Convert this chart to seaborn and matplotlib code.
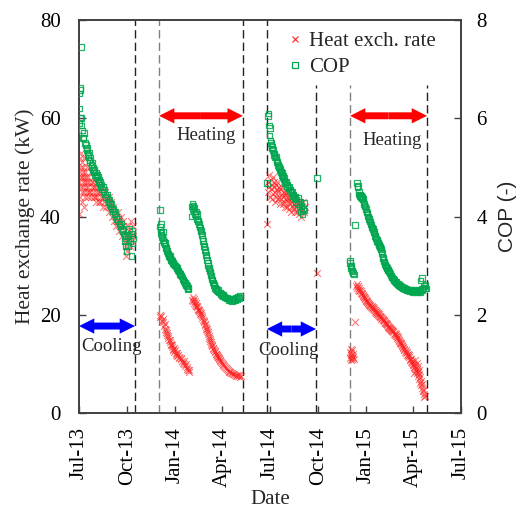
import numpy as np
import pandas as pd
import matplotlib
matplotlib.use("Agg")
import matplotlib.pyplot as plt
import matplotlib.dates as mdates
from matplotlib.patches import FancyArrowPatch
from matplotlib.lines import Line2D
import seaborn as sns

# ---------------- data (day offset from 2013-07-01, value) ----------------
START = "2013-07-01"

# Heat exchange rate (kW)
hx_p1 = [(0,40.5),(0,47),(1,52),(1,56),(2,44),(2,49),(3,50),(3,46),(4,53),(4,48),(5,45),(5,51),
         (6,48),(6,43),(7,50),(7,47),(8,46),(8,49),(9,42),(9,52),(10,48),(10,45),(11,47),(12,49),
         (12,44),(13,46),(14,48),(15,45),(15,50),(16,47),(17,44),(18,48),(18,46),(19,45),(20,47),
         (21,45),(22,49),(23,44),(24,46),(25,47),(26,47),(27,45),(28,44),(29,46),(30,44),(31,46),
         (32,45),(33,43),(34,47),(35,44),(36,45),(38,43),(39,46),(40,45),(41,43),(42,44),(44,46),
         (45,42),(46,44),(48,43),(50,45),(52,42),(54,44),(55,43),(57,41),(58,44),(60,42),(62,43),
         (63,40),(65,42),(66,39),(68,41),(70,38),(71,40),(73,39),(74,41),(76,37),(77,39),(79,38),
         (80,40),(82,36),(84,38),(85,39),(87,35),(88,37),(89,32),(90,34),(91,36),(92,33),(93,38),
         (94,35),(96,37),(97,34),(98,36),(99,39),(101,35),(103,38),(104,36)]
hx_p2a = [(154,20.0),(155,19.5),(157,19.8),(158,18.8),(160,19.2),(161,18.5),(162,17.8),(164,18.2),
          (165,17.0),(166,16.4),(167,16.8),(168,15.9),(169,16.2),(170,15.2),(171,15.6),(172,14.8),
          (173,14.4),(174,14.9),(175,14.0),(176,13.8),(177,13.4),(178,13.9),(179,13.0),(180,12.8),
          (181,13.2),(182,12.5),(184,12.8),(185,12.2),(186,11.8),(187,12.3),(188,11.6),(190,11.8),
          (191,11.2),(192,11.5),(194,10.9),(195,11.1),(197,10.6),(198,10.2),(200,10.5),(201,9.9),
          (203,9.6),(204,10.0),(206,9.3),(207,9.0),(209,8.8),(210,8.4),(211,8.7)]
hx_p2b = [(216,23.0),(217,23.6),(218,22.8),(219,23.2),(220,22.4),(221,22.8),(222,22.0),(223,22.3),
          (224,21.7),(225,21.5),(226,21.8),(227,21.2),(228,21.0),(229,20.7),(230,20.9),(231,20.5),
          (232,20.2),(233,20.4),(234,20.0),(235,19.8),(236,19.4),(237,19.0),(238,18.8),(239,18.5),
          (240,18.2),(241,18.0),(242,17.6),(243,17.2),(244,17.0),(245,16.6),(246,16.4),(247,16.0),
          (248,15.6),(249,15.3),(250,15.0),(251,14.6),(252,14.4),(253,14.0),(254,13.8),(255,13.6),
          (256,13.3),(257,13.0),(258,12.8),(259,12.6),(260,12.4),(261,12.1),(262,12.0),(263,11.8),
          (264,11.6),(265,11.5),(266,11.3),(267,11.1),(268,11.0),(269,10.8),(270,10.6),(272,10.4),
          (273,10.2),(275,10.0),(276,9.8),(278,9.6),(279,9.4),(281,9.2),(282,9.0),(284,8.8),
          (286,8.6),(287,8.4),(289,8.3),(291,8.1),(292,8.2),(294,7.9),(296,8.0),(298,7.8),
          (300,7.6),(302,7.8),(304,7.5),(306,7.7),(308,7.4),(310,7.6)]
hx_p3 = [(359,38.5),(361,47),(362,45),(363,48.5),(364,46),(365,44),(366,47.5),(367,45.5),(368,43.5),
         (369,46.5),(370,48),(371,44.5),(372,46),(373,47),(374,45),(375,43),(376,46.5),(377,44),
         (378,45.5),(379,47),(380,43.5),(381,45),(382,46),(383,44),(384,42.5),(385,45.5),(386,43.5),
         (387,44.5),(388,46),(389,42.5),(390,44),(391,45),(392,43),(393,44.5),(394,42),(395,45),
         (396,43.5),(397,44),(398,42),(399,43),(400,45),(401,41.5),(402,43.5),(403,44),(404,42.5),
         (405,43),(406,41),(407,44),(408,42),(409,43.5),(410,41.5),(411,42.5),(412,44),(413,41),
         (414,42),(415,43),(417,41),(418,42.5),(420,40.5),(421,43),(422,41.5),(424,42),(425,40),
         (427,41.5),(428,43),(430,41),(431,42),(455,28.5)]
hx_p4 = [(518,12.5),(518,11.2),(519,13.0),(519,11.8),(520,12.2),(520,10.8),(521,11.5),(521,12.8),
         (522,11.0),(523,12.0),(524,11.4),(525,10.9),(527,18.6),
         (530,25.8),(531,26.3),(532,25.5),(533,25.9),(534,25.1),(535,25.4),(536,24.8),(537,25.1),
         (538,24.5),(539,24.8),(540,24.2),(541,24.5),(542,23.9),(543,24.1),(544,23.6),(545,23.7),
         (546,23.2),(547,23.4),(548,22.9),(549,23.0),(550,22.6),(551,22.7),(552,22.3),(553,22.4),
         (554,22.0),(555,22.1),(556,21.8),(557,21.9),(558,21.5),(559,21.7),(560,21.4),(561,21.5),
         (562,21.1),(563,21.3),(564,20.9),(565,21.0),(566,20.6),(567,20.8),(568,20.4),(569,20.5),
         (570,20.2),(571,20.3),(572,19.9),(573,20.1),(574,19.7),(575,19.8),(576,19.5),(577,19.6),
         (578,19.2),(579,19.4),(580,19.0),(581,19.1),(582,18.7),(583,18.9),(584,18.4),(585,18.6),
         (586,18.2),(587,18.3),(588,17.9),(589,18.1),(590,17.6),(591,17.8),(592,17.4),(593,17.5),
         (594,17.1),(595,17.3),(596,16.9),(597,17.0),(598,16.7),(599,16.8),(600,16.4),(601,16.6),
         (602,16.1),(603,16.3),(604,15.8),(605,16.0),(606,15.6),(607,15.7),(608,15.3),(609,15.5),
         (610,15.0),(611,14.8),(612,14.6),(613,14.3),(614,14.5),(615,14.0),(616,14.2),(617,13.6),
         (618,13.9),(619,13.2),(620,13.5),(621,12.9),(622,13.1),(623,12.5),(624,12.8),(625,12.2),
         (626,12.4),(627,11.9),(628,12.1),(629,11.6),(630,11.8),(631,11.3),(632,11.0),(633,10.7),
         (634,10.9),(635,10.4),(636,10.2),(637,10.5),(638,9.8),(639,10.0),(640,9.4),(641,9.7),
         (642,9.0),(643,9.3),(644,8.6),(645,8.9),(646,8.2),(647,8.4),(648,7.6),(649,7.9),(650,7.0),
         (651,7.3),(652,6.2),(653,6.6),(654,5.6),(655,5.9),(656,5.0),(657,4.4),(658,4.7),(659,3.8),
         (660,3.2),(661,3.5),(641,8.2),(643,10.8),(645,10.2),(647,9.6),(650,8.8)]

# COP (-)
cop_p1 = [(0,5.9),(1,6.2),(1,6.5),(2,6.58),(3,6.62),(4,7.45),(2,6.0),(4,6.0),(5,5.85),(6,5.75),
          (8,5.6),(9,5.6),(10,5.7),(11,5.5),(13,5.45),(14,5.35),(15,5.4),(16,5.3),(17,5.25),
          (18,5.2),(19,5.3),(20,5.15),(21,5.1),(22,5.2),(24,5.05),(25,5.0),(26,5.1),(27,4.95),
          (28,5.0),(29,4.9),(30,4.95),(31,4.85),(32,4.9),(33,4.8),(34,4.85),(35,4.75),(36,4.8),
          (37,4.7),(38,4.75),(39,4.65),(40,4.7),(41,4.6),(43,4.65),(44,4.55),(46,4.6),(47,4.5),
          (48,4.55),(50,4.45),(52,4.4),(53,4.45),(55,4.35),(56,4.3),(58,4.35),(59,4.25),(60,4.2),
          (62,4.25),(63,4.15),(65,4.1),(66,4.15),(68,4.05),(69,4.1),(71,4.0),(72,3.95),(74,3.9),
          (75,3.95),(77,3.85),(79,3.8),(80,3.85),(82,3.75),(83,3.7),(85,3.65),(87,3.6),(88,3.5),
          (89,3.4),(90,3.55),(91,3.3),(93,3.6),(94,3.4),(96,3.75),(97,3.5),(99,3.65),(100,3.2),
          (101,3.7),(102,3.45),(104,3.55)]
cop_p2a = [(155,4.13),(155,3.8),(156,3.72),(157,3.66),(157,3.85),(158,3.62),(159,3.58),(160,3.68),
           (161,3.52),(162,3.48),(163,3.44),(164,3.46),(165,3.4),(166,3.36),(167,3.34),(168,3.3),
           (169,3.27),(170,3.25),(171,3.22),(172,3.2),(173,3.18),(174,3.2),(175,3.14),(176,3.12),
           (177,3.1),(178,3.08),(179,3.1),(180,3.04),(181,3.06),(182,3.02),(183,3.0),(185,2.98),
           (186,2.95),(187,2.96),(188,2.92),(189,2.9),(190,2.88),(192,2.85),(193,2.82),(194,2.84),
           (195,2.8),(196,2.78),(198,2.75),(199,2.72),(200,2.7),(201,2.68),(203,2.65),(204,2.62),
           (205,2.6),(206,2.58),(207,2.55),(208,2.52),(209,2.55)]
cop_p2b = [(216,4.0),(216,4.2),(217,4.25),(218,4.15),(219,4.22),(220,4.1),(221,4.18),(222,4.05),
           (223,4.0),(224,4.1),(225,4.05),(226,3.95),(227,3.9),(228,3.92),(229,3.85),(230,3.8),
           (231,3.78),(232,3.72),(233,3.7),(234,3.65),(235,3.62),(236,3.55),(237,3.5),(238,3.45),
           (239,3.4),(240,3.38),(241,3.32),(242,3.28),(243,3.22),(244,3.18),(245,3.12),(246,3.05),
           (247,3.0),(248,2.95),(249,2.92),(250,2.88),(251,2.85),(252,2.8),(253,2.76),(254,2.72),
           (255,2.7),(256,2.66),(257,2.64),(258,2.6),(259,2.58),(260,2.55),(262,2.52),(263,2.5),
           (265,2.48),(266,2.5),(268,2.45),(270,2.44),(271,2.42),(273,2.4),(275,2.38),(276,2.4),
           (278,2.36),(280,2.35),(282,2.33),(284,2.34),(286,2.3),(288,2.32),(290,2.3),(292,2.28),
           (294,2.3),(296,2.32),(298,2.3),(300,2.34),(302,2.32),(304,2.36),(306,2.34),(308,2.38)]
cop_p3 = [(359,4.68),(361,6.05),(362,6.1),(363,5.85),(364,5.65),(365,5.8),(366,5.55),(367,5.5),
          (368,5.45),(369,5.38),(370,5.42),(371,5.35),(372,5.3),(373,5.25),(374,5.28),(375,5.2),
          (376,5.22),(377,5.15),(378,5.1),(379,5.12),(380,5.05),(381,5.0),(382,5.02),(383,4.95),
          (384,4.98),(385,4.9),(386,4.92),(387,4.85),(388,4.88),(389,4.8),(390,4.82),(391,4.75),
          (392,4.78),(393,4.72),(394,4.68),(396,4.7),(397,4.62),(398,4.65),(400,4.58),(401,4.6),
          (403,4.52),(404,4.55),(406,4.48),(407,4.5),(409,4.42),(410,4.45),(412,4.38),(413,4.4),
          (415,4.3),(416,4.35),(418,4.25),(419,4.38),(421,4.2),(422,4.3),(424,4.1),(425,4.22),
          (427,4.05),(428,4.15),(430,4.12),(431,4.28),(455,4.78)]
cop_p4 = [(518,3.05),(518,3.1),(519,2.98),(520,2.95),(521,3.0),(522,2.9),(523,2.88),(524,2.85),
          (525,2.82),(527,3.83),
          (531,4.68),(532,4.6),(533,4.62),(534,4.45),(535,4.5),(536,4.42),(537,4.45),(538,4.4),
          (539,4.42),(540,4.38),(541,4.4),(542,4.35),(543,4.37),(544,4.3),(545,4.25),(546,4.22),
          (547,4.2),(548,4.15),(549,4.1),(550,4.08),(551,4.05),(552,4.0),(553,3.98),(554,3.95),
          (555,3.92),(556,3.9),(557,3.86),(558,3.84),(559,3.8),(560,3.78),(561,3.76),(562,3.75),
          (563,3.7),(564,3.68),(565,3.65),(566,3.6),(567,3.58),(568,3.55),(569,3.52),(570,3.5),
          (571,3.47),(572,3.44),(573,3.42),(574,3.4),(575,3.38),(576,3.36),(577,3.34),(578,3.3),
          (579,3.26),(580,3.18),(581,3.15),(582,3.12),(583,3.08),(584,3.05),(585,3.02),(586,3.0),
          (587,2.98),(588,2.96),(589,2.95),(590,2.92),(591,2.9),(592,2.88),(593,2.86),(594,2.84),
          (596,2.8),(597,2.78),(598,2.76),(600,2.74),(601,2.72),(602,2.71),(604,2.68),(605,2.66),
          (606,2.67),(608,2.64),(609,2.62),(610,2.63),(612,2.6),(613,2.58),(614,2.59),(616,2.56),
          (617,2.57),(619,2.55),(620,2.53),(622,2.54),(623,2.52),(625,2.53),(626,2.5),(628,2.51),
          (629,2.49),(631,2.5),(632,2.48),(634,2.5),(635,2.47),(637,2.49),(638,2.46),(640,2.48),
          (641,2.5),(643,2.47),(644,2.49),(646,2.46),(647,2.48),(649,2.5),(650,2.47),(652,2.49),
          (653,2.46),(655,2.5),(656,2.52),(658,2.55),(659,2.58),(661,2.55),(662,2.6),(663,2.53),
          (653,2.7),(655,2.75)]

# season boundaries (dashed lines): date, top of line (kW)
bound_dates = ["2013-10-16", "2013-12-01", "2014-05-10", "2014-06-25",
               "2014-09-27", "2014-12-01", "2015-04-27"]
bound_tops = [80, 80, 80, 80, 66.8, 66.8, 66.8]
bound_colors = ["#222222", "#808080", "#222222", "#222222", "#222222", "#808080", "#222222"]

# seasons (arrows): start, end, level (kW), label, label date, label level, colour
seasons = [("2013-07-01", "2013-10-16", 17.7, "Cooling", "2013-09-02", 13.6, "#0000ff"),
           ("2013-12-01", "2014-05-10", 60.5, "Heating", "2014-03-01", 56.4, "#ff0000"),
           ("2014-06-25", "2014-09-27", 17.1, "Cooling", "2014-08-06", 12.8, "#0000ff"),
           ("2014-12-01", "2015-04-27", 60.5, "Heating", "2015-02-19", 55.4, "#ff0000")]

x_ticks = ["2013-07-01", "2013-10-01", "2014-01-01", "2014-04-01", "2014-07-01",
           "2014-10-01", "2015-01-01", "2015-04-01", "2015-07-01"]
y_ticks_hx = [0, 20, 40, 60, 80]
y_ticks_cop = [0, 2, 4, 6, 8]


def to_frame(*parts):
    pts = [p for part in parts for p in part]
    d = pd.DataFrame(pts, columns=["day", "val"])
    d["date"] = pd.Timestamp(START) + pd.to_timedelta(d["day"], unit="D")
    return d


hx = to_frame(hx_p1, hx_p2a, hx_p2b, hx_p3, hx_p4)
cop = to_frame(cop_p1, cop_p2a, cop_p2b, cop_p3, cop_p4)

# ---------------- plotting ----------------
sns.set_style("ticks")
plt.rcParams["font.family"] = ["Liberation Serif", "DejaVu Serif"]

fig = plt.figure(figsize=(5.21, 5.14), dpi=100)
ax = fig.add_axes([79 / 521, 1 - 413 / 514, 382 / 521, 393 / 514])
ax2 = ax.twinx()

RED = "#ff2020"
GREEN = "#00a650"

sns.scatterplot(data=hx, x="date", y="val", ax=ax, marker="x", color=RED,
                s=24, linewidth=0.8, alpha=0.6, legend=False, zorder=3)
sns.scatterplot(data=cop, x="date", y="val", ax=ax2, marker="s", color=GREEN,
                s=16, linewidth=0.9, legend=False, zorder=3)
coll = ax2.collections[-1]
coll.set_facecolor("none")
coll.set_edgecolor(GREEN)
coll.set_alpha(0.85)

ax.set_xlim(pd.Timestamp(x_ticks[0]), pd.Timestamp(x_ticks[-1]))
ax.set_ylim(y_ticks_hx[0], y_ticks_hx[-1])
ax2.set_ylim(y_ticks_cop[0], y_ticks_cop[-1])

for d, top, c in zip(bound_dates, bound_tops, bound_colors):
    ax.vlines(pd.Timestamp(d), 0, top, colors=c, linestyles=(0, (6, 3)),
              linewidth=1.0, zorder=2)

for s, e, lvl, lab, ld, ll, c in seasons:
    xs, xe = mdates.date2num(pd.Timestamp(s)), mdates.date2num(pd.Timestamp(e))
    xm = 0.5 * (xs + xe)
    for x_end in (xs, xe):
        arr = FancyArrowPatch((xm, lvl), (x_end, lvl),
                              arrowstyle="simple,head_length=11,head_width=11,tail_width=5",
                              mutation_scale=1, color=c, lw=0, zorder=4,
                              shrinkA=0, shrinkB=0)
        ax.add_patch(arr)
    ax.text(pd.Timestamp(ld), ll, lab, ha="center", va="center", fontsize=13.5, zorder=5)

ax.set_xticks(pd.to_datetime(x_ticks))
ax.xaxis.set_major_formatter(mdates.DateFormatter("%b-%y"))
ax.set_yticks(y_ticks_hx)
ax2.set_yticks(y_ticks_cop)

for a in (ax, ax2):
    for sp in a.spines.values():
        sp.set_color("#404040")
        sp.set_linewidth(1.2)
ax.tick_params(axis="x", direction="in", length=5, width=1, colors="#404040",
               labelcolor="black", labelsize=15, labelrotation=90, pad=10)
ax.tick_params(axis="y", direction="in", length=5, width=1, colors="#404040",
               labelcolor="black", labelsize=15, pad=13)
ax2.tick_params(axis="y", direction="in", length=5, width=1, colors="#404040",
                labelcolor="black", labelsize=15, pad=11)

ax.set_xlabel("Date", fontsize=15, labelpad=2)
ax.set_ylabel("Heat exchange rate (kW)", fontsize=15.5, labelpad=4)
ax2.set_ylabel("COP (-)", fontsize=15, rotation=90, labelpad=8,
               family=["Liberation Sans", "DejaVu Sans"])

handles = [Line2D([], [], marker="x", color=RED, linestyle="none", markersize=4, mew=0.8),
           Line2D([], [], marker="s", markerfacecolor="none", markeredgecolor=GREEN,
                  linestyle="none", markersize=4, mew=0.9)]
ax.legend(handles, ["Heat exch. rate", "COP"], loc="upper left",
          bbox_to_anchor=(0.505, 1.008), frameon=False, fontsize=15,
          handlelength=0.8, handletextpad=0.3, labelspacing=0.3, borderpad=0.2)

fig.savefig("out.png", dpi=100)
